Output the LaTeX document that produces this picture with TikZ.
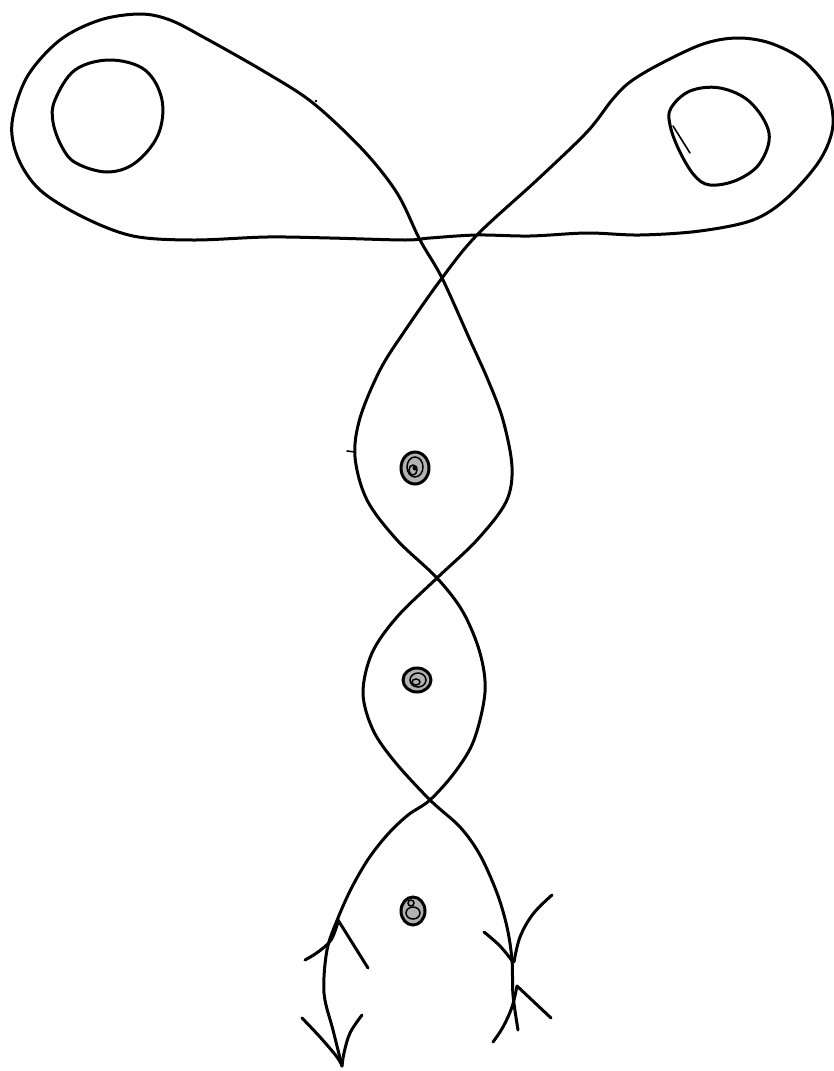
\documentclass[tikz,border=0pt]{standalone}
\begin{document}
\begin{tikzpicture}[x=1pt,y=-1pt,
  ink/.style={line width=3pt, line cap=round, line join=round},
  thin ink/.style={line width=1.6pt, line cap=round},
  blob/.style={line width=3pt, fill=gray!60, draw=black},
  scrib/.style={line width=1.5pt, draw=black}]
\useasboundingbox[fill=white] (0,0) rectangle (834,1071);

% main strand
\draw[ink] plot[smooth, tension=0.55] coordinates {
 (342,1066) (333,1030) (324,993) (327,950) (338,918) (352,887) (369,858) (388,834) (408,815) (430,800)
 (455,772) (474,740) (485,692) (480,653) (463,612) (437,578)
 (397,540) (367,500) (355,457) (360,418) (380,370) (404,332) (442,278) (477,235)
 (537,180) (587,132) (612,100) (630,82) (660,64) (703,44) (737,38) (770,43) (803,60) (826,88) (833,125)
 (820,160) (787,198) (753,220) (700,231) (640,235) (587,233) (530,236) (477,235) (430,238) (405,240)
 (330,238) (267,237) (193,240) (133,236) (83,217) (40,190) (18,158) (12,123) (27,77) (60,40) (100,20)
 (140,14) (170,20) (205,38) (265,72) (313,103) (363,150) (397,193) (420,240) (442,278)
 (470,340) (488,380) (503,420) (512,467) (506,502) (477,540) (437,578)
 (397,617) (372,653) (363,693) (373,730) (395,762) (430,800)
 (460,827) (480,855) (497,893) (507,927) (512,960) (513,995) (518,1030)};

% inner circles
\draw[ink] plot[smooth cycle, tension=0.6] coordinates {
 (55,100) (75,70) (110,60) (145,70) (162,100) (158,135) (135,163) (107,172) (76,163) (62,147) (53,122)};
\draw[ink] plot[smooth cycle, tension=0.6] coordinates {
 (671,108) (690,91) (720,88) (750,102) (769,133) (760,163) (737,180) (710,185) (694,175) (679,150) (670,125)};
\draw[thin ink] (673,126) -- (690,153);

% arrow barbs, left strand
\draw[ink] (338,920) -- (368,968);
\draw[ink] plot[smooth, tension=0.6] coordinates {(338,922) (331,940) (318,952) (305,960)};
\draw[ink] plot[smooth, tension=0.6] coordinates {(302,1018) (320,1037) (337,1057) (342,1066)};
\draw[ink] plot[smooth, tension=0.6] coordinates {(362,1015) (350,1033) (344,1053) (342,1066)};

% arrow barbs, right strand
\draw[ink] plot[smooth, tension=0.6] coordinates {(484,932) (500,946) (513,962)};
\draw[ink] plot[smooth, tension=0.6] coordinates {(552,895) (533,914) (520,937) (514,962)};
\draw[ink] (517,986) -- (551,1018);
\draw[ink] plot[smooth, tension=0.6] coordinates {(517,986) (512,1007) (503,1027) (493,1042)};

% small marks
\draw[thin ink] (347,451) -- (355,452);
\fill (316,101) circle (1.3);

% dots
\draw[blob] (415,468) ellipse (14 and 16);
\draw[scrib] (415,467) ellipse (8 and 10);
\draw[scrib] (413,470) ellipse (4 and 5);
\fill (415,468) circle (2.5);
\draw[blob] (417,680) ellipse (14 and 12);
\draw[scrib] (418,680) ellipse (8 and 7);
\draw[scrib] (416,682) ellipse (4 and 3);
\draw[blob] (413,911) ellipse (12 and 14);
\draw[scrib] (413,913) ellipse (7 and 6);
\draw[scrib] (411,903) circle (3);
\end{tikzpicture}
\end{document}
